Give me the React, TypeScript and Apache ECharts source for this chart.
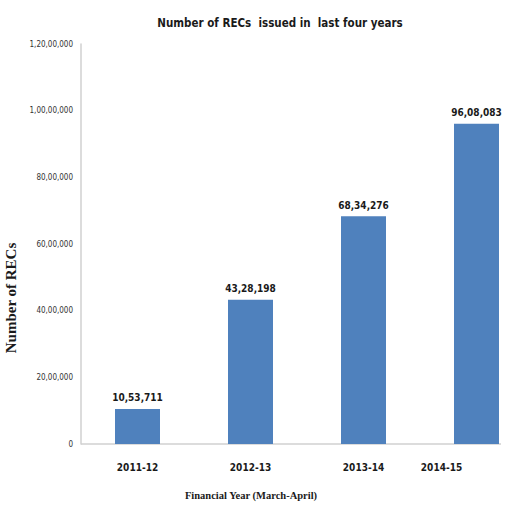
import React, { useEffect, useRef } from "react";
import * as echarts from "echarts";

const categories = ["2011-12", "2012-13", "2013-14", "2014-15"];
const recsIssued = [1053711, 4328198, 6834276, 9608083];
const yMax = 12000000;
const yInterval = 2000000;
const titleText = "Number of RECs  issued in  last four years";
const xName = "Financial Year (March-April)";
const yName = "Number of RECs";

const NARROW = "'Liberation Sans Narrow', 'DejaVu Sans Condensed', 'Roboto Condensed', sans-serif";
const SERIF = "'Liberation Serif', 'DejaVu Serif', serif";

function indian(n: number): string {
  const s = Math.round(n).toString();
  if (s.length <= 3) return s;
  const last3 = s.slice(-3);
  let rest = s.slice(0, -3);
  const parts: string[] = [];
  while (rest.length > 2) {
    parts.unshift(rest.slice(-2));
    rest = rest.slice(0, -2);
  }
  if (rest.length) parts.unshift(rest);
  return parts.join(",") + "," + last3;
}

export default function App() {
  const ref = useRef<HTMLDivElement>(null);
  useEffect(() => {
    if (!ref.current) return;
    const chart = echarts.init(ref.current, null, { renderer: "svg" });
    chart.setOption({
      animation: false,
      backgroundColor: "#ffffff",
      title: {
        text: titleText,
        left: 275,
        top: 12,
        textAlign: "center",
        textStyle: { fontFamily: NARROW, fontSize: 11.5, fontWeight: "bold", color: "#1a1a1a" },
      },
      grid: { left: 81, top: 44, width: 452, height: 400, outerBoundsMode: "none", containLabel: false },
      xAxis: {
        type: "category",
        data: categories.map((c, i) =>
          i === categories.length - 1
            ? { value: c, textStyle: { padding: [0, 70, 0, 0] } }
            : c
        ),
        axisLine: { show: false },
        axisTick: { show: false },
        axisLabel: {
          margin: 18,
          fontFamily: NARROW,
          fontSize: 10,
          fontWeight: "bold",
          color: "#1a1a1a",
        },
        name: xName,
        nameLocation: "middle",
        nameGap: 46,
        nameTextStyle: {
          fontFamily: SERIF,
          fontSize: 10.5,
          fontWeight: "bold",
          color: "#1a1a1a",
          padding: [0, 112, 0, 0],
        },
      },
      yAxis: {
        type: "value",
        min: 0,
        max: yMax,
        interval: yInterval,
        axisLine: { show: true, lineStyle: { color: "#d0d0d0", width: 1.5 } },
        axisTick: { show: false },
        splitLine: { show: false },
        axisLabel: {
          margin: 8,
          fontFamily: NARROW,
          fontSize: 8,
          color: "#333333",
          formatter: (v: number) => indian(v),
        },
        name: yName,
        nameLocation: "middle",
        nameGap: 62,
        nameRotate: 90,
        nameTextStyle: {
          fontFamily: SERIF,
          fontSize: 15,
          fontWeight: "bold",
          color: "#1a1a1a",
          padding: [0, 108, 0, 0],
        },
      },
      graphic: [
        {
          type: "line",
          shape: { x1: 81, y1: 444, x2: 501, y2: 444 },
          style: { stroke: "#d0d0d0", lineWidth: 1.5 },
        },
      ],
      series: [
        {
          type: "bar",
          data: recsIssued,
          barWidth: 45,
          itemStyle: { color: "#4F81BD" },
          label: {
            show: true,
            position: "top",
            distance: 6,
            fontFamily: NARROW,
            fontSize: 10,
            fontWeight: "bold",
            color: "#1a1a1a",
            formatter: (p: any) => indian(p.value),
          },
        },
      ],
    });
    return () => chart.dispose();
  }, []);
  return (
    <div
      ref={ref}
      style={{ position: "absolute", left: 0, top: 0, width: 528, height: 507 }}
    />
  );
}
